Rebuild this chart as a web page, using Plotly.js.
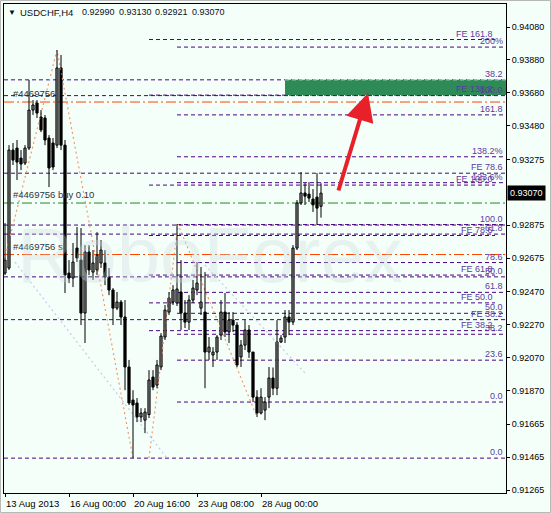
<!DOCTYPE html>
<html><head><meta charset="utf-8">
<script src="https://cdn.plot.ly/plotly-3.0.1.min.js"></script>
<style>html,body{margin:0;padding:0;background:#F5FFFA;}#chart{width:551px;height:513px;}</style>
</head><body><div id="chart"></div>
<script>
// ---- OHLC data (USDCHF H4), bar index 0 = 13 Aug 2013 08:00 ----
const openP  = [0.92584,0.92615,0.93332,0.93344,0.93283,0.93253,0.93344,0.93575,0.93618,0.93533,0.93527,0.93405,0.93375,0.93362,0.93831,0.93362,0.92584,0.92554,0.92736,0.92663,0.92341,0.92712,0.92590,0.92603,0.92645,0.92645,0.92560,0.92481,0.92371,0.92408,0.92317,0.92013,0.91812,0.91794,0.91709,0.91690,0.91724,0.91952,0.91903,0.92013,0.92195,0.92347,0.92408,0.92402,0.92469,0.92341,0.92286,0.92420,0.92481,0.92371,0.92347,0.92104,0.92086,0.92104,0.92207,0.92347,0.92226,0.92298,0.92268,0.92074,0.92146,0.92238,0.92104,0.91830,0.91733,0.91751,0.91830,0.91946,0.91884,0.92165,0.92195,0.92317,0.92286,0.92736,0.93010,0.93071,0.93064,0.93034,0.93046,0.92990];
const highP  = [0.92888,0.93362,0.93375,0.93393,0.93332,0.93362,0.93758,0.93636,0.93636,0.93575,0.93545,0.93423,0.93405,0.93940,0.93910,0.93393,0.92663,0.92767,0.92864,0.92858,0.92754,0.92754,0.92724,0.92833,0.92785,0.92724,0.92615,0.92493,0.92469,0.92420,0.92420,0.92056,0.91872,0.91824,0.91763,0.91763,0.91994,0.91994,0.92056,0.92219,0.92390,0.92469,0.92511,0.92882,0.92663,0.92420,0.92450,0.92542,0.92651,0.92621,0.92590,0.92195,0.92134,0.92207,0.92420,0.92463,0.92347,0.92347,0.92286,0.92177,0.92298,0.92268,0.92104,0.91872,0.91884,0.91830,0.92013,0.92010,0.92298,0.92207,0.92359,0.92359,0.92754,0.93028,0.93198,0.93131,0.93137,0.93095,0.93192,0.93130];
const lowP   = [0.92572,0.92603,0.93241,0.93150,0.93210,0.93241,0.93332,0.93545,0.93527,0.93441,0.93362,0.93107,0.93210,0.93344,0.93332,0.92463,0.92523,0.92499,0.92651,0.92268,0.92159,0.92572,0.92542,0.92572,0.92615,0.92511,0.92450,0.92268,0.92359,0.92268,0.91872,0.91782,0.91459,0.91678,0.91678,0.91611,0.91703,0.91872,0.91884,0.91994,0.92177,0.92329,0.92390,0.92384,0.92238,0.92250,0.92238,0.92402,0.92450,0.92329,0.91884,0.92056,0.92013,0.92056,0.92177,0.92195,0.92159,0.92226,0.92013,0.92013,0.92116,0.92068,0.91800,0.91709,0.91724,0.91690,0.91763,0.91842,0.91842,0.92159,0.92159,0.92207,0.92268,0.92724,0.92998,0.92998,0.93016,0.92955,0.92876,0.92921];
const closeP = [0.92663,0.93332,0.93271,0.93259,0.93247,0.93344,0.93575,0.93606,0.93557,0.93454,0.93393,0.93223,0.93229,0.93831,0.93362,0.92572,0.92554,0.92651,0.92676,0.92341,0.92712,0.92603,0.92645,0.92694,0.92724,0.92560,0.92481,0.92371,0.92408,0.92317,0.92013,0.91794,0.91782,0.91709,0.91733,0.91739,0.91934,0.91891,0.92025,0.92201,0.92359,0.92432,0.92481,0.92487,0.92341,0.92286,0.92420,0.92493,0.92523,0.92408,0.92104,0.92134,0.92104,0.92195,0.92347,0.92226,0.92298,0.92268,0.92025,0.92146,0.92238,0.92104,0.91830,0.91733,0.91830,0.91800,0.91946,0.91884,0.92165,0.92189,0.92317,0.92286,0.92736,0.93010,0.93071,0.93052,0.93040,0.92998,0.92979,0.93070];

// ---- header text ----
const symbolLabel = "USDCHF,H4";
const ohlcLabels  = ["0.92990", "0.93130", "0.92921", "0.93070"];

// ---- axis ticks ----
const xTickBars   = [0, 16, 32, 48, 64];
const xTickLabels = ["13 Aug 2013","16 Aug 00:00","20 Aug 16:00","23 Aug 08:00","28 Aug 00:00"];
const yTickVals   = [0.94080,0.93880,0.93680,0.93480,0.93275,0.92875,0.92675,0.92470,0.92270,0.92070,0.91870,0.91665,0.91465,0.91265];

// ---- Fibonacci retracement #1 (starts at bar 43) ----
const fibA_start = 43, fibA_p0 = 0.91800, fibA_p100 = 0.92879;
const fibA_levels = [0, 23.6, 38.2, 50, 61.8, 78.6, 100, 123.6, 138.2, 161.8, 200];
const fibA_labels = ["0.0","23.6","38.2","50.0","61.8","78.6","100.0","123.6%","138.2%","161.8","200%"];
// ---- Fibonacci retracement #2 (full width) ----
const fibB_p0 = 0.91459, fibB_p100 = 0.93663;
const fibB_levels = [0, 38.2, 50, 61.8, 78.6, 100];
const fibB_labels = ["0.0","FE 38.2","50.0","61.8","FE 78.6","100.0"];
// ---- Fibonacci expansion (starts at bar 36) ----
const fe_start = 36, fe_p0 = 0.91687, fe_p100 = 0.93119;
const fe_levels = [38.2, 50, 61.8, 78.6, 100, 138.2, 161.8];
const fe_labels = ["FE 38.2","FE 50.0","FE 61.8","FE 78.6","FE 100.0","FE 138.2","FE 161.8"];
// extra full-width levels
const extraLevels = [0.93759, 0.92876];
const extraLabels = ["38.2", ""];

// ---- order lines ----
const orderTP = 0.93624, orderOpen = 0.93010, orderSL = 0.92697;
// ---- target zone & arrow ----
const zoneBar = 70, zoneLow = 0.93666, zoneHigh = 0.93759;
const arrowFrom = [83.25, 0.93077], arrowTo = [90.75, 0.93679];
// ---- zigzag / trend helper lines (bar, price) ----
const zigA_bars = [-0.5, 13, 32], zigA_prices = [0.92633, 0.93940, 0.91459];
const zigB_bars = [36, 43.25, 63], zigB_prices = [0.91459, 0.92882, 0.91709];
const lavA_bars = [2.5, 40.5], lavA_prices = [0.92651, 0.91459];
const lavB_bars = [50, 75], lavB_prices = [0.92633, 0.91976];

const XMIN = -0.25, XMAX = 125.25, YMIN = 0.91247, YMAX = 0.94220;
const idx = openP.map((_, i) => i);
const FONT = "Liberation Sans, Arial, sans-serif";
const FS = 9.5;
const FIBC = "#4B0082", LBLC = "#5B3A9E";
const px2x = px => (px - 4) / 502, px2y = py => (493 - py) / 489;

const traces = [];
function dotted(xs, ys, color) {
  traces.push({type:'scatter', mode:'lines', x:xs, y:ys, hoverinfo:'skip', showlegend:false,
    line:{color:color, width:1.2, dash:'2px,3px'}});
}
dotted(zigA_bars, zigA_prices, '#F4976F');
dotted(zigB_bars, zigB_prices, '#F4976F');
dotted(lavA_bars, lavA_prices, '#C3CAEE');
dotted(lavB_bars, lavB_prices, '#C3CAEE');

// wicks
const wx = [], wy = [];
idx.forEach(i => { wx.push(i, i, null); wy.push(lowP[i], highP[i], null); });
traces.push({type:'scatter', mode:'lines', x:wx, y:wy, hoverinfo:'skip', showlegend:false,
  line:{color:'#000', width:1}});
// bodies
const MINB = 0.00003;
traces.push({type:'bar', x:idx,
  base: idx.map(i => Math.min(openP[i], closeP[i])),
  y: idx.map(i => Math.max(Math.abs(closeP[i]-openP[i]), MINB)),
  width: 0.55,
  marker:{color: idx.map(i => closeP[i] >= openP[i] ? '#FFFFFF' : '#000000'), line:{color:'#000', width:1}},
  hoverinfo:'skip', showlegend:false});

const shapes = [], annotations = [];
function hline(x0, x1, y, color, dash, width, layer) {
  shapes.push({type:'line', xref:'x', yref:'y', x0:x0, x1:x1, y0:y, y1:y, layer:layer||'below',
    line:{color:color, width:width||1, dash:dash}});
}
function label(xb, y, text, anchor) {
  if (!text) return;
  annotations.push({xref:'x', yref:'y', x:xb, y:y, text:text, showarrow:false,
    xanchor:anchor||'right', yanchor:'bottom', yshift:-1,
    font:{family:FONT, size:9, color:LBLC}});
}
const FD = '4px,3px';
fibA_levels.forEach((lv, k) => { const p = fibA_p0 + lv/100*(fibA_p100 - fibA_p0);
  hline(fibA_start, XMAX, p, FIBC, FD); label(125, p, fibA_labels[k]); });
fibB_levels.forEach((lv, k) => { const p = fibB_p0 + lv/100*(fibB_p100 - fibB_p0);
  hline(XMIN, XMAX, p, FIBC, FD); label(125, p, fibB_labels[k]); });
fe_levels.forEach((lv, k) => { const p = fe_p0 + lv/100*(fe_p100 - fe_p0);
  hline(fe_start, 122.5, p, FIBC, FD); label(122.5, p, fe_labels[k]); });
extraLevels.forEach((p, k) => { hline(XMIN, XMAX, p, FIBC, FD); label(125, p, extraLabels[k]); });

// order lines
hline(XMIN, XMAX, orderTP, '#FF4500', '10px,3px,2px,3px', 1);
hline(XMIN, XMAX, orderOpen, '#1E8A1E', '10px,3px,2px,3px', 1);
hline(XMIN, XMAX, orderSL, '#FF4500', '10px,3px,2px,3px', 1);
const OC = '#2A3442';
[[orderTP,'#4469756'],[orderOpen,'#4469756 buy 0.10'],[orderSL,'#4469756 sl']].forEach(o => {
  annotations.push({xref:'x', yref:'y', x:1.6, y:o[0], text:o[1], showarrow:false,
    xanchor:'left', yanchor:'bottom', yshift:1, font:{family:FONT, size:FS, color:OC}});
});

// target zone
shapes.push({type:'rect', xref:'x', yref:'y', x0:zoneBar, x1:XMAX, y0:zoneLow, y1:zoneHigh,
  fillcolor:'#2E8B57', line:{width:0}, layer:'above'});
hline(zoneBar, XMAX, zoneHigh, '#BFE3CC', FD, 1, 'above');

// arrow
annotations.push({xref:'x', yref:'y', axref:'x', ayref:'y', x:arrowTo[0], y:arrowTo[1],
  ax:arrowFrom[0], ay:arrowFrom[1], text:'', showarrow:true, arrowhead:2, arrowsize:1.4,
  arrowwidth:4, arrowcolor:'#E8202A'});

// watermark
annotations.push({xref:'paper', yref:'paper', x:px2x(210), y:px2y(255), text:'RoboForex',
  showarrow:false, font:{family:FONT, size:78, color:'rgba(200,218,218,0.35)'}});

// header: triangle, symbol, OHLC values at their own positions
const HC = '#0A1020';
const hdr = [['▼', 8, 8], [symbolLabel, 20, 9.5]];
ohlcLabels.forEach((t, k) => hdr.push([t, 82 + k * 36.7, 9]));
hdr.forEach(h => annotations.push({xref:'paper', yref:'paper', x:px2x(h[1]), y:px2y(12.5),
  xanchor:'left', yanchor:'middle', text:h[0], showarrow:false, xshift:-2,
  font:{family:FONT, size:h[2], color:HC}}));

// x tick labels (left-aligned at tick, MetaTrader style)
xTickBars.forEach((b, k) => annotations.push({xref:'x', yref:'paper', x:b, y:px2y(503),
  xanchor:'left', yanchor:'middle', xshift:-1, text:xTickLabels[k], showarrow:false,
  font:{family:FONT, size:FS, color:'#000'}}));

// current price box
annotations.push({xref:'paper', yref:'y', x:1, xshift:1, xanchor:'left', y:closeP[closeP.length-1],
  text:'0.93070', showarrow:false, bgcolor:'#000', borderpad:2,
  font:{family:FONT, size:9, color:'#FFF'}});

// outer frame
shapes.push({type:'rect', xref:'paper', yref:'paper', x0:px2x(0.5), x1:px2x(550.5),
  y0:px2y(512.5), y1:px2y(0.5), line:{color:'#B8B8B8', width:1}, fillcolor:'rgba(0,0,0,0)'});

const layout = {
  width:551, height:513, margin:{l:4, r:45, t:4, b:20}, bargap:0,
  paper_bgcolor:'#F5FFFA', plot_bgcolor:'#F5FFFA', showlegend:false,
  font:{family:FONT, size:FS, color:'#000'},
  xaxis:{range:[XMIN, XMAX], showgrid:false, zeroline:false,
    tickmode:'array', tickvals:xTickBars, showticklabels:false, ticks:'outside', ticklen:3,
    tickcolor:'#000', showline:true, linecolor:'#000', mirror:true},
  yaxis:{range:[YMIN, YMAX], side:'right', showgrid:false, zeroline:false, tickmode:'array',
    tickvals:yTickVals, ticktext:yTickVals.map(v => v.toFixed(5)), ticks:'outside', ticklen:3,
    tickcolor:'#000', showline:true, linecolor:'#000', mirror:true,
    tickfont:{family:FONT, size:9, color:'#000'}},
  shapes:shapes, annotations:annotations
};
Plotly.newPlot('chart', traces, layout, {staticPlot:true, displayModeBar:false});
</script></body></html>
